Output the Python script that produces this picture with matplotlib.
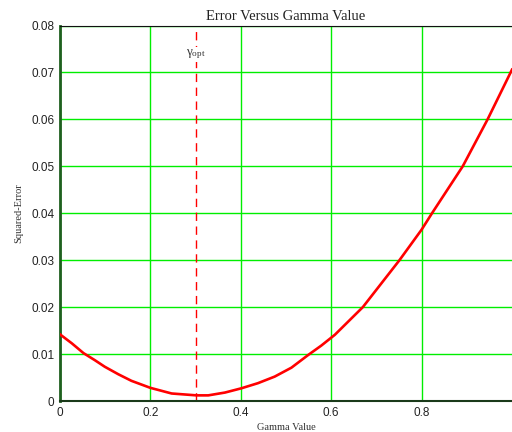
import matplotlib
matplotlib.use("Agg")
import matplotlib.pyplot as plt

# values
gamma = [0.000, 0.026, 0.052, 0.077, 0.099, 0.129, 0.158, 0.200, 0.247, 0.302,
         0.328, 0.365, 0.401, 0.438, 0.475, 0.512, 0.549, 0.578, 0.608, 0.670,
         0.751, 0.800, 0.823, 0.891, 0.946, 1.000]
sq_error = [0.0142, 0.0123, 0.0102, 0.0087, 0.0073, 0.0057, 0.0043, 0.0028, 0.0016, 0.0012,
            0.0012, 0.0018, 0.0027, 0.0038, 0.0052, 0.0071, 0.0098, 0.0118, 0.0141, 0.0200,
            0.0300, 0.0365, 0.0400, 0.0500, 0.0600, 0.0706]
gamma_opt = 0.30
x_ticks = [0, 0.2, 0.4, 0.6, 0.8]
x_tick_labels = ["0", "0.2", "0.4", "0.6", "0.8"]
y_ticks = [0, 0.01, 0.02, 0.03, 0.04, 0.05, 0.06, 0.07, 0.08]
y_tick_labels = ["0", "0.01", "0.02", "0.03", "0.04", "0.05", "0.06", "0.07", "0.08"]

serif = ["Liberation Serif", "DejaVu Serif"]
sans = ["Liberation Sans", "DejaVu Sans"]

fig = plt.figure(figsize=(5.12, 4.32), dpi=100)
ax = fig.add_axes([60 / 512, 1 - 401 / 432, 452 / 512, 375.5 / 432])

ax.plot(gamma, sq_error, color="#ff0000", lw=1.9, zorder=3)
ax.axvline(gamma_opt, color="#ff0000", lw=1, ls=(0, (6, 4)), zorder=2)
ax.text(gamma_opt, 0.0738, r"$\mathregular{\gamma_{opt}}$", ha="center", va="center",
        fontsize=9.5, family=serif, color="#333333", zorder=4,
        bbox=dict(facecolor="white", edgecolor="none", pad=0.3))

ax.set_xlim(0, 1.0)
ax.set_ylim(0, 0.08)
ax.set_xticks(x_ticks)
ax.set_xticklabels(x_tick_labels, family=sans, fontsize=8.5)
ax.set_yticks(y_ticks)
ax.set_yticklabels(y_tick_labels, family=sans, fontsize=8.5)
ax.tick_params(length=0, pad=4, colors="#222222")

ax.grid(True, color="#00ee00", lw=1)
ax.set_axisbelow(True)

ax.spines["top"].set_color("#111111")
ax.spines["left"].set_color("#1f5f1f")
ax.spines["left"].set_linewidth(2)
ax.spines["bottom"].set_color("#1a3a1a")
ax.spines["bottom"].set_linewidth(1.5)
ax.spines["right"].set_visible(False)

ax.set_title("Error Versus Gamma Value", family=serif, fontsize=10.5, pad=4, color="#222222")
ax.set_xlabel("Gamma Value", family=serif, fontsize=7.5, labelpad=3, color="#333333")
ax.set_ylabel("Squared-Error", family=serif, fontsize=7.5, labelpad=6, color="#333333")

fig.savefig("out.png", dpi=100)
